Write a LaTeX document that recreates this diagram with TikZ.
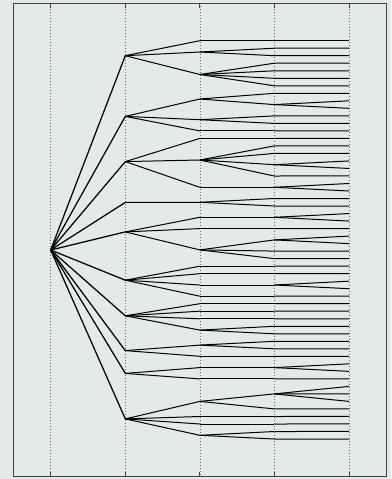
\documentclass[tikz,border=0pt]{standalone}
\begin{document}
\begin{tikzpicture}[x=1pt,y=-1pt,
  edge/.style={line width=1pt,black},
  rootedge/.style={line width=1.25pt,black},
  guide/.style={line width=0.6pt,gray!80!black,dash pattern=on 0.7pt off 2.3pt},
  tick/.style={line width=0.8pt,black!75},
  frame/.style={line width=0.8pt,black!75}]
\definecolor{bgc}{RGB}{227,235,232}
\fill[bgc] (0,0) rectangle (391,479);
\useasboundingbox (0,0) rectangle (391,479);
% guide lines and ticks
\foreach \x in {50.7,125.3,199.8,274.3,349} {
  \draw[guide] (\x,3) -- (\x,476);
  \draw[tick] (\x,3) -- (\x,7.5);
  \draw[tick] (\x,476) -- (\x,471.5);
}
\draw[frame] (13,3) rectangle (386,476);
% root
\coordinate (R) at (50.7,250);
% level 2
\foreach \n/\y in {a/55.7,b/116.4,c/161.6,d/202.4,e/231.9,f/280.2,g/315.8,h/350.6,i/373.4,j/418.9} {
  \coordinate (B\n) at (125.3,\y);
  \draw[rootedge] (R) -- (B\n);
}
% level 3
\foreach \n/\y/\p in {1/40.7/a,2/52.0/a,3/74.5/a,4/99.0/b,5/119.7/b,6/130.9/b,7/138.4/c,8/160.0/c,9/187.3/c,10/202.3/d,11/217.3/e,12/228.6/e,13/249.9/e,14/266.2/f,15/273.7/f,16/285.0/f,17/296.2/f,18/303.7/g,19/311.2/g,20/318.8/g,21/330.1/g,22/345.1/h,23/356.3/h,24/367.6/i,25/378.9/i,26/401.4/j,27/416.5/j,28/424.0/j,29/435.3/j} {
  \coordinate (C\n) at (199.8,\y);
  \draw[edge] (B\p) -- (C\n);
}
% level 4
\foreach \n/\y/\p in {1/40.7/1,2/48.2/2,3/55.7/2,4/63.2/3,5/70.8/3,6/78.3/3,7/85.8/3,8/93.3/4,9/104.6/4,10/115.9/5,11/123.4/5,12/130.9/6,13/138.4/7,14/145.9/8,15/153.4/8,16/164.7/8,17/176.0/8,18/187.3/9,19/198.5/10,20/206.0/10,21/217.3/11,22/228.6/12,23/239.9/13,24/251.1/13,25/258.6/13,26/266.2/14,27/273.7/15,28/285.0/16,29/296.2/17,30/303.7/18,31/311.2/19,32/318.8/20,33/326.3/21,34/333.8/21,35/341.3/22,36/348.8/22,37/356.3/23,38/367.6/24,39/378.9/25,40/393.9/26,41/408.9/26,42/416.5/27,43/424.0/28,44/431.5/29,45/439.0/29} {
  \coordinate (D\n) at (274.3,\y);
  \draw[edge] (C\p) -- (D\n);
}
% leaves
\foreach \n/\p in {0/1,1/2,2/3,3/4,4/5,5/6,6/7,7/8,8/9,9/9,10/10,11/11,12/12,13/13,14/14,15/15,16/16,17/16,18/17,19/18,20/18,21/19,22/20,23/21,24/21,25/22,26/23,27/23,28/24,29/25,30/26,31/27,32/28,33/28,34/29,35/30,36/31,37/32,38/33,39/34,40/35,41/36,42/37,43/38,44/38,45/39,46/40,47/40,48/40,49/41,50/42,51/43,52/44,53/45} {
  \coordinate (E\n) at (349,{40.7+7.515*\n});
  \draw[edge] (D\p) -- (E\n);
}
\end{tikzpicture}
\end{document}
